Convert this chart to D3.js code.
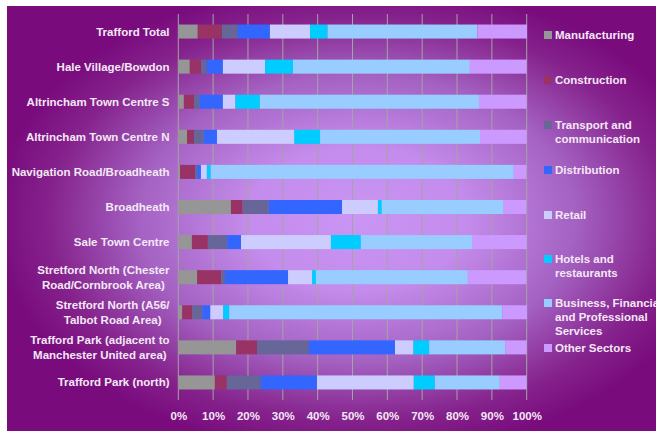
<!DOCTYPE html>
<html>
<head>
<meta charset="utf-8">
<script src="https://cdn.jsdelivr.net/npm/d3@7"></script>
<style>
  body { margin: 0; background: #fff; }
  text { font-family: "Liberation Sans", Arial, sans-serif; font-weight: bold; fill: #f4e8f6; }
</style>
</head>
<body>
<div id="chart"></div>
<script>
// areas, top to bottom
const areas = [
  'Trafford Total',
  'Hale Village/Bowdon',
  'Altrincham Town Centre S',
  'Altrincham Town Centre N',
  'Navigation Road/Broadheath',
  'Broadheath',
  'Sale Town Centre',
  'Stretford North (Chester\nRoad/Cornbrook Area)',
  'Stretford North (A56/\nTalbot Road Area)',
  'Trafford Park (adjacent to\nManchester United area)',
  'Trafford Park (north)'
]

const sectors = [
  'Manufacturing',
  'Construction',
  'Transport and\ncommunication',
  'Distribution',
  'Retail',
  'Hotels and\nrestaurants',
  'Business, Financial\nand Professional\nServices',
  'Other Sectors'
]

const sectorColors = ['#969696', '#993366', '#666699', '#3366ff', '#ccccff', '#00ccff', '#99ccff', '#cc99ff']

// share of employment (%) per sector, same order as areas
const manufacturing = [5.6, 3.3, 1.6, 2.5, 0.5, 15.1, 3.9, 5.4, 1.1, 16.6, 10.5]
const construction = [6.9, 3.2, 2.9, 2.0, 4.3, 3.4, 4.6, 6.9, 2.9, 6.0, 3.4]
const transport = [4.6, 1.7, 1.6, 2.8, 0.6, 7.5, 5.5, 1.1, 2.9, 14.9, 9.8]
const distribution = [9.2, 4.6, 6.7, 3.8, 1.1, 21.0, 4.0, 18.1, 2.3, 24.7, 16.1]
const retail = [11.5, 12.1, 3.6, 22.2, 1.7, 10.3, 25.8, 6.9, 3.7, 5.3, 27.8]
const hotels = [5.0, 8.0, 7.0, 7.4, 1.1, 1.1, 8.6, 1.1, 1.7, 4.5, 6.0]
const business = [43.0, 50.8, 62.9, 45.9, 87.0, 35.0, 31.9, 43.6, 78.4, 21.8, 18.7]
const other = [14.3, 16.3, 13.7, 13.4, 3.6, 6.5, 15.7, 16.8, 7.1, 6.2, 7.7]

const series = [manufacturing, construction, transport, distribution, retail, hotels, business, other]

const tickValues = [0, 10, 20, 30, 40, 50, 60, 70, 80, 90, 100]

const W = 656
const H = 432
const plot = { left: 178.3, right: 526.7, top: 14, bottom: 400 }

const svg = d3.select('#chart')
  .append('svg')
  .attr('width', W)
  .attr('height', H)

// background gradient
const defs = svg.append('defs')
const grad = defs.append('radialGradient')
  .attr('id', 'bg')
  .attr('cx', 0.54).attr('cy', 0.5).attr('r', 0.56)
  .attr('fx', 0.54).attr('fy', 0.5)
grad.selectAll('stop')
  .data([
    [0, '#ca95f4'],
    [0.3, '#c48cec'],
    [0.6, '#a462c2'],
    [0.85, '#85228c'],
    [1, '#790b7d']
  ])
  .enter()
  .append('stop')
  .attr('offset', d => d[0])
  .attr('stop-color', d => d[1])

svg.append('rect')
  .attr('x', 7).attr('y', 6)
  .attr('width', W - 7).attr('height', H - 7)
  .attr('fill', 'url(#bg)')

// rows: build per-area records for the stack
const rows = areas.map((a, i) => {
  const r = { area: a }
  sectors.forEach((s, j) => { r[s] = series[j][i] })
  return r
})

const stacked = d3.stack().keys(sectors)(rows)

const x = d3.scaleLinear()
  .domain([0, 100])
  .range([plot.left, plot.right])

const y = d3.scaleBand()
  .domain(areas)
  .range([plot.top, plot.bottom])
  .paddingInner(0.6)
  .paddingOuter(0.3)

// gridlines
svg.append('g')
  .selectAll('line')
  .data(tickValues)
  .enter()
  .append('line')
  .attr('x1', d => x(d))
  .attr('x2', d => x(d))
  .attr('y1', plot.top)
  .attr('y2', plot.bottom)
  .attr('stroke', '#a4a4a4')
  .attr('stroke-width', 1)

// bars
svg.append('g')
  .selectAll('g')
  .data(stacked)
  .enter()
  .append('g')
  .attr('fill', (d, i) => sectorColors[i])
  .selectAll('rect')
  .data(d => d)
  .enter()
  .append('rect')
  .attr('x', d => x(d[0]))
  .attr('width', d => x(d[1]) - x(d[0]))
  .attr('y', d => y(d.data.area))
  .attr('height', y.bandwidth())

// x axis labels
const xAxis = d3.axisBottom(x)
  .tickValues(tickValues)
  .tickFormat(d => d + '%')
  .tickSize(0)
  .tickPadding(12)
const gx = svg.append('g')
  .attr('transform', 'translate(0,' + plot.bottom + ')')
  .call(xAxis)
gx.select('.domain').remove()
gx.selectAll('text')
  .attr('fill', '#f4e8f6')
  .style('font-size', '11.5px')
  .style('font-family', '"Liberation Sans", Arial, sans-serif')
  .style('font-weight', 'bold')

// category labels (multi-line ones are centred within a right-aligned block)
const lineH = 15
const labelRight = 169.5
areas.forEach(a => {
  const lines = a.split('\n')
  const cy = y(a) + y.bandwidth() / 2
  const t = svg.append('text')
    .style('font-size', '11.5px')
  lines.forEach((l, k) => {
    t.append('tspan')
      .attr('y', cy + (k - (lines.length - 1) / 2) * lineH)
      .attr('dy', '0.35em')
      .text(l)
  })
  if (lines.length === 1) {
    t.attr('text-anchor', 'end').selectAll('tspan').attr('x', labelRight)
  } else {
    let maxW = 0
    t.selectAll('tspan').each(function () {
      maxW = Math.max(maxW, this.getComputedTextLength())
    })
    t.attr('text-anchor', 'middle').selectAll('tspan').attr('x', labelRight - maxW / 2)
  }
})

// legend
const legendY = [35, 80, 125, 170, 215, 259, 303, 348]
const legend = svg.append('g')
sectors.forEach((s, i) => {
  const g = legend.append('g').attr('transform', 'translate(544,' + legendY[i] + ')')
  g.append('rect')
    .attr('x', 0).attr('y', -4)
    .attr('width', 8).attr('height', 8)
    .attr('fill', sectorColors[i])
  const t = g.append('text')
    .style('font-size', '11.5px')
  s.split('\n').forEach((l, k) => {
    t.append('tspan')
      .attr('x', 11)
      .attr('y', k * 14)
      .attr('dy', '0.35em')
      .text(l)
  })
})
</script>
</body>
</html>
